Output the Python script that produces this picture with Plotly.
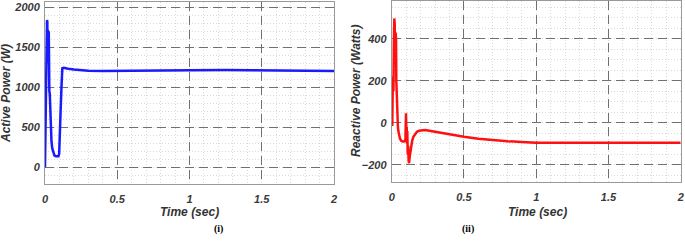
import plotly.graph_objects as go

# ---------------- data ----------------
t_active = [0, 0.003, 0.006, 0.009, 0.012, 0.014, 0.016, 0.018, 0.02, 0.022, 0.024, 0.026, 0.028,
            0.03, 0.033, 0.036, 0.04, 0.045, 0.05, 0.058, 0.065, 0.075, 0.085, 0.093, 0.098,
            0.103, 0.108, 0.114, 0.12, 0.13, 0.14, 0.16, 0.2, 0.25, 0.3, 0.4, 0.5,
            0.75, 1.0, 1.25, 1.5, 1.75, 2.0]
p_active = [0, 600, 1250, 1000, 1500, 1840, 1820, 1300, 1720, 1650, 1350, 1700, 1200,
            950, 920, 700, 430, 320, 240, 180, 150, 140, 138, 140, 170,
            350, 700, 1000, 1240, 1245, 1240, 1232, 1222, 1212, 1206, 1203, 1203,
            1207, 1212, 1215, 1214, 1210, 1205]

t_reactive = [0, 0.004, 0.008, 0.012, 0.015, 0.018, 0.021, 0.024, 0.027, 0.03, 0.032, 0.034,
              0.036, 0.038, 0.04, 0.043, 0.046, 0.05, 0.057, 0.065, 0.075, 0.085, 0.092, 0.095,
              0.099, 0.102, 0.104, 0.106, 0.108, 0.111, 0.114, 0.117, 0.12, 0.125, 0.133,
              0.142, 0.15, 0.162, 0.175, 0.19, 0.21, 0.23, 0.25, 0.3, 0.35, 0.4, 0.5, 0.6,
              0.7, 0.8, 0.9, 1.0, 1.2, 1.4, 1.6, 1.8, 2.0]
q_reactive = [0, -15, 220, 150, 380, 497, 470, 300, 430, 400, 200, 130,
              60, 130, 20, -20, -40, -60, -75, -85, -90, -90, -88, -80,
              45, -60, -20, -100, -40, -150, -110, -180, -193, -160, -114,
              -85, -67, -52, -43, -38, -35, -35, -37, -43, -50, -56, -67, -76,
              -83, -88, -92, -95, -96, -96, -96, -95, -95]

x_ticks = [0, 0.5, 1, 1.5, 2]
x_tick_text = ["0", "0.5", "1", "1.5", "2"]
y_ticks_active = [0, 500, 1000, 1500, 2000]
y_ticks_reactive = [-200, 0, 200, 400]

# ---------------- figure ----------------
W, H = 685, 244
FONT = "Liberation Sans, Arial, sans-serif"
TICK_COLOR = "#3a3a3a"

fig = go.Figure()
fig.add_trace(go.Scatter(x=t_active, y=p_active, mode="lines",
                         line=dict(color="#1a1aff", width=2.5), xaxis="x", yaxis="y",
                         showlegend=False, hoverinfo="skip"))
fig.add_trace(go.Scatter(x=t_reactive, y=q_reactive, mode="lines",
                         line=dict(color="#ff1010", width=2.5), xaxis="x2", yaxis="y2",
                         showlegend=False, hoverinfo="skip"))

def px_x(p):
    return p / W

def px_y(p):
    return 1 - p / H

tickfont = dict(family=FONT, size=11, color=TICK_COLOR, weight="bold", style="italic")
common = dict(
    showline=True, mirror=True, linecolor="#999999", linewidth=1,
    showgrid=True, gridcolor="#707070", gridwidth=1, griddash="9px,5px",
    zeroline=False, ticks="", tickfont=tickfont, automargin=False,
)
minor = dict(showgrid=True, gridcolor="#dadada", gridwidth=1, griddash="1px,2px")

fig.update_layout(
    width=W, height=H,
    margin=dict(l=0, r=0, t=0, b=0),
    paper_bgcolor="white", plot_bgcolor="white",
    xaxis=dict(domain=[px_x(45), px_x(334)], range=[0, 2], tickvals=x_ticks,
               ticktext=x_tick_text, anchor="y", ticklabelstandoff=5,
               minor=dict(dtick=0.1, **minor), **common),
    yaxis=dict(domain=[px_y(184), px_y(2)], range=[-208, 2066], tickvals=y_ticks_active,
               anchor="x", ticklabelstandoff=2,
               minor=dict(dtick=100, tick0=0, **minor), **common),
    xaxis2=dict(domain=[px_x(391.7), px_x(680.7)], range=[0, 2], tickvals=x_ticks,
                ticktext=x_tick_text, anchor="y2", ticklabelstandoff=5,
                minor=dict(dtick=0.1, **minor), **common),
    yaxis2=dict(domain=[px_y(181.7), px_y(1)], range=[-281, 580], tickvals=y_ticks_reactive,
                anchor="x2", ticklabelstandoff=2,
                minor=dict(dtick=50, tick0=0, **minor), **common),
)

title_font = dict(family=FONT, size=12, color="#333333", weight="bold", style="italic")
label_font = dict(family="Liberation Serif, Times New Roman, serif", size=10, color="black",
                  weight="bold")
annos = [
    dict(text="Time (sec)", x=px_x(189.5), y=px_y(212), font=title_font),
    dict(text="Time (sec)", x=px_x(537), y=px_y(212), font=title_font),
    dict(text="Active Power (W)", x=px_x(6), y=px_y(94), font=title_font, textangle=-90),
    dict(text="Reactive Power (Watts)", x=px_x(356), y=px_y(91), font=title_font, textangle=-90),
    dict(text="(i)", x=px_x(218), y=px_y(229), font=label_font),
    dict(text="(ii)", x=px_x(468), y=px_y(229), font=label_font),
]
for a in annos:
    fig.add_annotation(xref="paper", yref="paper", showarrow=False,
                       xanchor="center", yanchor="middle", **a)

fig.write_html("out.html", config={"displayModeBar": False, "staticPlot": True},
               post_script="document.body.style.margin='0';document.body.style.overflow='hidden';")
